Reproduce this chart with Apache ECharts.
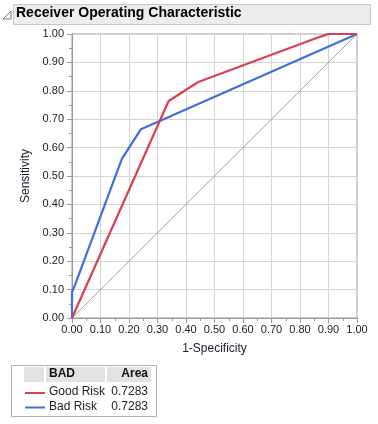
<!DOCTYPE html>
<html><head><meta charset="utf-8">
<script src="https://cdn.jsdelivr.net/npm/echarts@6/dist/echarts.min.js"></script>
<style>html,body{margin:0;padding:0;background:#fff}#c{width:378px;height:424px}</style>
</head><body><div id="c"></div>
<script>
const titleText = "Receiver Operating Characteristic";
const xName = "1-Specificity";
const yName = "Sensitivity";
const legendHeader = ["BAD", "Area"];
const seriesNames = ["Good Risk", "Bad Risk"];
const seriesAreas = ["0.7283", "0.7283"];
const goodRiskX = [0, 0.339, 0.443, 0.87, 0.9, 1];
const goodRiskY = [0, 0.764, 0.831, 0.99, 1.0, 1];
const badRiskX = [0, 0.0, 0.012, 0.175, 0.242, 1];
const badRiskY = [0, 0.09, 0.12, 0.56, 0.665, 1];
const diagX = [0, 1];
const diagY = [0, 1];
const colors = ["#d9404f", "#3e6ee0"];

const zip = (a, b) => a.map((v, i) => [v, b[i]]);
const chart = echarts.init(document.getElementById('c'));
const font = "'Liberation Sans', Arial, sans-serif";
const axisCommon = {
  type: 'value', min: 0, max: 1, interval: 0.1,
  axisLine: {show: true, lineStyle: {color: '#9a9a9a', width: 1}},
  axisTick: {show: true, length: 5, lineStyle: {color: '#9a9a9a'}},
  minorTick: {show: true, splitNumber: 2, length: 3, lineStyle: {color: '#9a9a9a'}},
  splitLine: {show: true, lineStyle: {color: '#d4d4d4', width: 1}},
  axisLabel: {color: '#1a1a2a', fontFamily: font, fontSize: 11, formatter: v => v.toFixed(2)},
  nameTextStyle: {color: '#1a1a2a', fontFamily: font, fontSize: 12}
};
const graphics = [
  {type: 'rect', shape: {x: 13.5, y: 4.5, width: 357, height: 20}, style: {fill: '#ececec', stroke: '#c8c8c8', lineWidth: 1}},
  {type: 'polygon', shape: {points: [[3, 19], [11, 19], [11, 11]]}, style: {fill: 'none', stroke: '#777', lineWidth: 1}},
  {type: 'text', x: 16, y: 6, style: {text: titleText, font: "bold 14px " + font, fill: '#000'}},
  {type: 'rect', shape: {x: 11.5, y: 365.5, width: 145, height: 51}, style: {fill: '#fff', stroke: '#b0b0b0', lineWidth: 1}},
  {type: 'rect', shape: {x: 24, y: 367, width: 20, height: 15}, style: {fill: '#e2e2e2'}},
  {type: 'rect', shape: {x: 46, y: 367, width: 59, height: 15}, style: {fill: '#e2e2e2'}},
  {type: 'rect', shape: {x: 107, y: 367, width: 44, height: 15}, style: {fill: '#e2e2e2'}},
  {type: 'text', x: 49, y: 368, style: {text: legendHeader[0], font: "bold 12px " + font, fill: '#111'}},
  {type: 'text', x: 148, y: 368, style: {text: legendHeader[1], font: "bold 12px " + font, fill: '#111', textAlign: 'right'}}
];
seriesNames.forEach((n, i) => {
  const y = 393 + i * 14.5;
  graphics.push({type: 'line', shape: {x1: 25, y1: y, x2: 45, y2: y}, style: {stroke: colors[i], lineWidth: 2}});
  graphics.push({type: 'text', x: 49, y: y - 7, style: {text: n, font: "12px " + font, fill: '#222'}});
  graphics.push({type: 'text', x: 148, y: y - 7, style: {text: seriesAreas[i], font: "12px " + font, fill: '#222', textAlign: 'right'}});
});
chart.setOption({
  animation: false,
  grid: {left: 72, top: 34, right: 21, bottom: 106, show: true, borderColor: '#9a9a9a', borderWidth: 1},
  xAxis: Object.assign({}, axisCommon, {name: xName, nameLocation: 'middle', nameGap: 25,
    axisLabel: Object.assign({}, axisCommon.axisLabel, {margin: 6})}),
  yAxis: Object.assign({}, axisCommon, {name: yName, nameLocation: 'middle', nameGap: 40,
    axisLabel: Object.assign({}, axisCommon.axisLabel, {margin: 8})}),
  graphic: graphics,
  series: [
    {type: 'line', data: zip(diagX, diagY), symbol: 'none', lineStyle: {color: '#8a8a8a', width: 0.8}, z: 1},
    {type: 'line', name: seriesNames[0], data: zip(goodRiskX, goodRiskY), symbol: 'none', lineStyle: {color: colors[0], width: 2.2}, z: 3},
    {type: 'line', name: seriesNames[1], data: zip(badRiskX, badRiskY), symbol: 'none', lineStyle: {color: colors[1], width: 2.2}, z: 2}
  ]
});
</script></body></html>
